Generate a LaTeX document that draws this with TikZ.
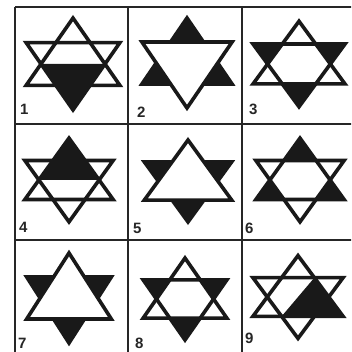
\documentclass[tikz,border=0pt]{standalone}
\usepackage{fontspec}
\setmainfont{Liberation Sans}
\begin{document}
\begin{tikzpicture}[x=1pt,y=-1pt,
  gridline/.style={line width=2pt, draw=black!85},
  starline/.style={line width=3.6pt, line join=miter, draw=black!90},
  ink/.style={fill=black!90},
  paper/.style={fill=white},
  lbl/.style={font=\fontsize{15}{15}\selectfont\bfseries, text=black!85, inner sep=0pt, anchor=base west}]
\useasboundingbox (0,0) rectangle (351,352);
\clip (0,0) rectangle (351,352);
\fill[white] (0,0) rectangle (351,352);
% grid
\draw[gridline] (15,7) -- (380,7);
\draw[gridline] (15,124) -- (380,124);
\draw[gridline] (15,240) -- (380,240);
\draw[gridline] (15,356) -- (380,356);
\draw[gridline] (15,7) -- (15,380);
\draw[gridline] (128,7) -- (128,380);
\draw[gridline] (242,7) -- (242,380);
\draw[gridline] (356,7) -- (356,380);
% cell 1
\begin{scope}[shift={(73,64)}, xscale=1.02, yscale=1.02]
\fill[ink] (-31.4,0) -- (31.4,0) -- (0,45) -- cycle;
\draw[starline] (0,-45) -- (46,21) -- (-46,21) -- cycle;
\draw[starline] (-46,-21) -- (46,-21) -- (0,45) -- cycle;
\end{scope}
% cell 2
\begin{scope}[shift={(187,63)}, xscale=0.98, yscale=1.0]
\filldraw[ink, starline] (0,-45) -- (46,21) -- (-46,21) -- cycle;
\filldraw[paper, starline] (-46,-21) -- (46,-21) -- (0,45) -- cycle;
\end{scope}
% cell 3
\begin{scope}[shift={(299,64)}, xscale=1.0, yscale=0.95]
\fill[ink] (-46,-21) -- (46,-21) -- (0,45) -- cycle;
\fill[paper] (0,-45) -- (46,21) -- (-46,21) -- cycle;
\draw[starline] (0,-45) -- (46,21) -- (-46,21) -- cycle;
\draw[starline] (-46,-21) -- (46,-21) -- (0,45) -- cycle;
\end{scope}
% cell 4
\begin{scope}[shift={(69,180)}, xscale=0.96, yscale=0.93]
\fill[ink] (-31.4,0) -- (31.4,0) -- (0,-45) -- cycle;
\draw[starline] (0,-45) -- (46,21) -- (-46,21) -- cycle;
\draw[starline] (-46,-21) -- (46,-21) -- (0,45) -- cycle;
\end{scope}
% cell 5
\begin{scope}[shift={(188,181)}, xscale=0.95, yscale=0.91]
\filldraw[ink, starline] (-46,-21) -- (46,-21) -- (0,45) -- cycle;
\filldraw[paper, starline] (0,-45) -- (46,21) -- (-46,21) -- cycle;
\end{scope}
% cell 6
\begin{scope}[shift={(300,180)}, xscale=0.96, yscale=0.93]
\fill[ink] (0,-45) -- (46,21) -- (-46,21) -- cycle;
\fill[paper] (-46,-21) -- (46,-21) -- (0,45) -- cycle;
\draw[starline] (0,-45) -- (46,21) -- (-46,21) -- cycle;
\draw[starline] (-46,-21) -- (46,-21) -- (0,45) -- cycle;
\end{scope}
% cell 7
\begin{scope}[shift={(69,298)}, xscale=0.92, yscale=1.0]
\filldraw[ink, starline] (-46,-21) -- (46,-21) -- (0,45) -- cycle;
\filldraw[paper, starline] (0,-45) -- (46,21) -- (-46,21) -- cycle;
\end{scope}
% cell 8
\begin{scope}[shift={(185,299)}, xscale=0.91, yscale=0.91]
\fill[ink] (-46,-21) -- (46,-21) -- (0,45) -- cycle;
\fill[paper] (0,-45) -- (46,21) -- (-46,21) -- cycle;
\draw[starline] (0,-45) -- (46,21) -- (-46,21) -- cycle;
\draw[starline] (-46,-21) -- (46,-21) -- (0,45) -- cycle;
\end{scope}
% cell 9
\begin{scope}[shift={(298,297)}, xscale=0.98, yscale=0.92]
\fill[ink] (16.7,-21) -- (46,21) -- (-16.7,21) -- cycle;
\draw[starline] (0,-45) -- (46,21) -- (-46,21) -- cycle;
\draw[starline] (-46,-21) -- (46,-21) -- (0,45) -- cycle;
\end{scope}
% labels
\node[lbl] (n1) at (20,115) {1};
\node[lbl] (n2) at (137,118) {2};
\node[lbl] (n3) at (249,115) {3};
\node[lbl] (n4) at (19,232) {4};
\node[lbl] (n5) at (133,233) {5};
\node[lbl] (n6) at (245,233) {6};
\node[lbl] (n7) at (18,348) {7};
\node[lbl] (n8) at (135,348) {8};
\node[lbl] (n9) at (245,343) {9};
\end{tikzpicture}
\end{document}
